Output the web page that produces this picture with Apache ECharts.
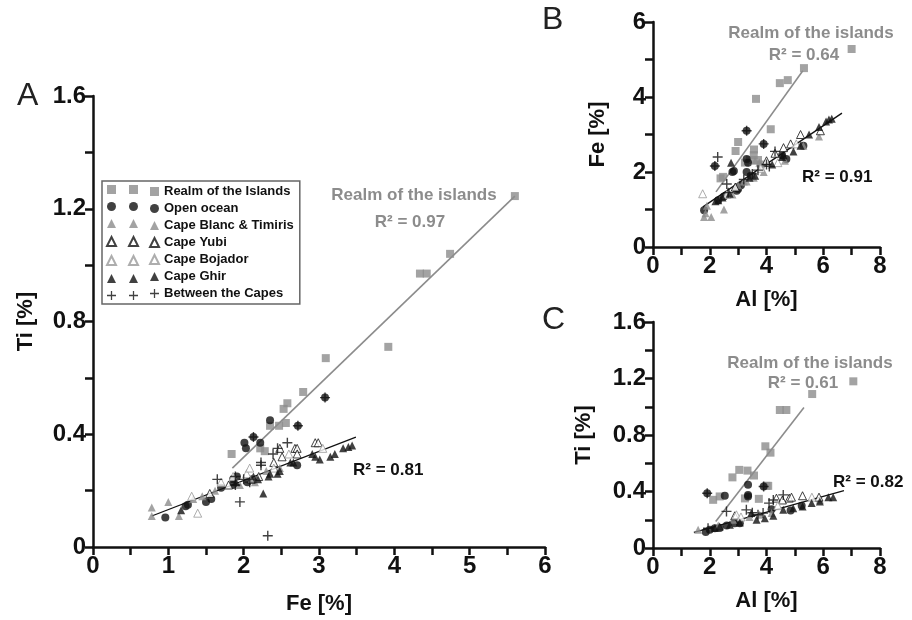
<!DOCTYPE html>
<html>
<head>
<meta charset="utf-8">
<script src="https://cdn.jsdelivr.net/npm/echarts@6/dist/echarts.min.js"></script>
<style>
  html, body { margin: 0; padding: 0; background: #fff; }
  #chart { width: 912px; height: 620px; }
</style>
</head>
<body>
<div id="chart"></div>
<script>
// group names (legend order)
var groups = ["Realm of the Islands", "Open ocean", "Cape Blanc & Timiris", "Cape Yubi", "Cape Bojador", "Cape Ghir", "Between the Capes"];

// Panel A: Fe [%] vs Ti [%]
var aRealm = [[5.6,1.245],[4.34,0.97],[4.43,0.97],[4.74,1.04],[3.92,0.71],[3.09,0.67],[2.79,0.55],[2.58,0.51],[2.53,0.49],[2.56,0.44],[2.47,0.43],[2.35,0.43],[2.22,0.35],[2.28,0.34],[1.84,0.33]];
var aOcean = [[2.35,0.45],[2.01,0.37],[2.03,0.35],[2.22,0.37],[2.71,0.29],[2.13,0.39],[2.72,0.43],[3.08,0.53],[0.96,0.105],[1.23,0.145],[1.26,0.15],[1.5,0.16],[1.57,0.17],[1.91,0.25],[1.86,0.24],[1.86,0.22],[1.7,0.21],[2.05,0.23]];
var aBlanc = [[0.78,0.14],[0.78,0.11],[1.0,0.16],[1.14,0.11],[1.33,0.17],[2.48,0.28],[1.62,0.2],[1.95,0.22],[2.15,0.23],[1.45,0.18],[2.3,0.27]];
var aYubi = [[2.48,0.35],[2.68,0.35],[2.71,0.35],[2.95,0.37],[2.99,0.37],[2.51,0.32],[2.71,0.33],[1.8,0.22],[2.1,0.24],[1.55,0.19],[2.2,0.25],[2.4,0.3]];
var aBojador = [[1.39,0.12],[1.31,0.18],[1.7,0.23],[2.04,0.26],[2.08,0.28],[1.86,0.25],[2.6,0.33],[3.05,0.35],[2.4,0.28]];
var aGhir = [[3.32,0.35],[3.39,0.355],[3.44,0.36],[3.21,0.33],[3.15,0.32],[3.01,0.31],[2.95,0.32],[2.91,0.33],[2.66,0.3],[2.62,0.3],[2.48,0.27],[2.45,0.26],[2.35,0.26],[2.33,0.25],[2.19,0.24],[2.26,0.19],[1.17,0.13],[2.13,0.25],[1.9,0.23]];
var aCapes = [[2.58,0.37],[2.39,0.33],[2.23,0.3],[2.23,0.29],[1.65,0.24],[1.89,0.25],[1.89,0.22],[2.08,0.23],[2.13,0.39],[2.72,0.43],[3.08,0.53],[1.95,0.16],[2.32,0.04],[2.0,0.24],[2.45,0.35]];
var aRealmFit = [[1.85,0.28],[5.6,1.245]];
var aAllFit = [[0.78,0.11],[3.49,0.39]];

// Panel B: Al [%] vs Fe [%]
var bRealm = [[7.0,5.28],[5.32,4.77],[4.75,4.45],[4.47,4.37],[3.63,3.95],[4.15,3.14],[3.0,2.8],[2.91,2.56],[3.56,2.6],[3.24,2.25],[3.42,2.32],[3.7,2.32],[2.47,1.87],[2.38,1.83],[3.8,2.2],[3.55,2.45]];
var bOcean = [[1.8,0.98],[2.8,2.0],[2.85,2.03],[3.3,2.0],[3.3,2.35],[3.35,2.25],[3.45,1.9],[3.0,1.55],[2.95,1.5],[4.55,2.45],[4.7,2.35],[5.3,2.7],[2.3,1.25],[2.5,1.35],[3.1,1.65],[3.3,3.1],[2.18,2.16],[3.9,2.75]];
var bBlanc = [[1.8,0.8],[2.05,0.8],[1.85,0.9],[2.5,1.0],[5.85,2.95],[5.3,2.7],[3.55,1.85],[3.3,1.75],[3.2,1.75],[3.0,1.65],[2.8,1.4],[4.65,2.3],[3.9,2.0],[1.9,1.1],[3.6,2.3],[3.75,2.25]];
var bYubi = [[5.2,3.0],[4.6,2.65],[4.85,2.75],[4.0,2.3],[5.9,3.1],[4.3,2.5],[2.9,1.6]];
var bBojador = [[1.75,1.42],[4.4,2.25],[3.8,2.1],[5.05,2.75],[2.6,1.4]];
var bGhir = [[6.3,3.42],[6.2,3.4],[6.1,3.35],[5.85,3.2],[5.5,3.0],[5.2,2.7],[4.95,2.55],[4.6,2.45],[4.55,2.4],[4.2,2.2],[3.6,1.9],[3.4,1.85],[2.7,1.42],[2.45,1.32],[2.3,1.25],[2.2,1.22],[2.75,2.25]];
var bCapes = [[2.28,2.4],[2.18,2.16],[2.6,1.68],[3.3,3.1],[3.9,2.75],[4.0,2.2],[3.5,1.95],[4.1,2.15],[4.3,2.55],[3.7,2.05],[2.65,1.45],[3.2,1.8]];
var bRealmFit = [[2.22,1.47],[5.28,4.7]];
var bAllFit = [[1.76,1.07],[6.66,3.57]];

// Panel C: Al [%] vs Ti [%]
var cRealm = [[7.06,1.18],[5.61,1.09],[4.47,0.977],[4.7,0.977],[3.96,0.72],[4.14,0.675],[3.04,0.553],[2.8,0.5],[3.33,0.548],[3.56,0.513],[2.12,0.341],[2.35,0.365],[3.24,0.351],[3.73,0.348],[4.06,0.44],[4.0,0.44]];
var cOcean = [[2.53,0.37],[3.35,0.447],[3.35,0.376],[3.35,0.365],[1.86,0.113],[1.91,0.388],[3.9,0.435],[3.06,0.176],[2.88,0.176],[2.18,0.139],[2.35,0.141],[2.0,0.129],[5.24,0.299],[4.85,0.266],[4.18,0.275],[2.6,0.16]];
var cBlanc = [[1.59,0.129],[3.76,0.235],[4.18,0.247],[5.88,0.341],[2.82,0.2],[3.4,0.22],[2.3,0.16]];
var cYubi = [[4.35,0.353],[4.8,0.353],[4.88,0.36],[5.27,0.37],[5.85,0.36],[4.56,0.34],[2.88,0.228]];
var cBojador = [[2.94,0.235],[5.6,0.36],[3.1,0.22],[4.4,0.3]];
var cGhir = [[6.35,0.36],[6.18,0.36],[5.88,0.33],[5.59,0.318],[5.27,0.294],[4.94,0.282],[4.59,0.27],[4.24,0.228],[3.94,0.21],[3.65,0.2],[3.06,0.18],[2.71,0.165],[2.35,0.153],[2.18,0.141],[3.47,0.247]];
var cCapes = [[1.91,0.388],[3.9,0.435],[2.59,0.259],[4.09,0.318],[4.59,0.376],[4.24,0.34],[3.7,0.235],[3.88,0.247],[3.29,0.27],[1.94,0.14],[3.5,0.25]];
var cRealmFit = [[2.21,0.188],[5.32,0.995]];
var cAllFit = [[1.44,0.111],[6.73,0.407]];

var FONT = "Liberation Sans";
var plusPath = "path://M4.3,0H5.7V4.3H10V5.7H5.7V10H4.3V5.7H0V4.3H4.3Z";

// how each group is drawn
var groupStyle = {
  "Realm of the Islands": { symbol: "rect", size: 8, itemStyle: { color: "#8c8c8c" } },
  "Open ocean": { symbol: "circle", size: 8, itemStyle: { color: "#111" } },
  "Cape Blanc & Timiris": { symbol: "triangle", size: 8, itemStyle: { color: "#8c8c8c" } },
  "Cape Yubi": { symbol: "triangle", size: 8, itemStyle: { color: "#fff", borderColor: "#111", borderWidth: 1 } },
  "Cape Bojador": { symbol: "triangle", size: 8, itemStyle: { color: "#fff", borderColor: "#999", borderWidth: 1 } },
  "Cape Ghir": { symbol: "triangle", size: 8, itemStyle: { color: "#111" } },
  "Between the Capes": { symbol: plusPath, size: 10, itemStyle: { color: "#111" } }
};

var panelData = [
  [aRealm, aOcean, aBlanc, aYubi, aBojador, aGhir, aCapes],
  [bRealm, bOcean, bBlanc, bYubi, bBojador, bGhir, bCapes],
  [cRealm, cOcean, cBlanc, cYubi, cBojador, cGhir, cCapes]
];
var panelFits = [[aRealmFit, aAllFit], [bRealmFit, bAllFit], [cRealmFit, cAllFit]];

var series = [];
panelFits.forEach(function (fits, p) {
  series.push({ type: "line", xAxisIndex: p, yAxisIndex: p, data: fits[0], symbol: "none", silent: true,
    lineStyle: { color: "#8c8c8c", width: 1.6 }, z: 1 });
  series.push({ type: "line", xAxisIndex: p, yAxisIndex: p, data: fits[1], symbol: "none", silent: true,
    lineStyle: { color: "#111", width: 1.3 }, z: 1 });
});
panelData.forEach(function (sets, p) {
  sets.forEach(function (d, i) {
    var st = groupStyle[groups[i]];
    series.push({ type: "scatter", name: groups[i], xAxisIndex: p, yAxisIndex: p, data: d,
      symbol: st.symbol, symbolSize: st.size, itemStyle: st.itemStyle, z: 2 + (i === 6 ? 2 : 0) });
  });
});

var labelStyle = { fontFamily: FONT, fontWeight: "bold", fontSize: 24, color: "#111" };
function axis(grid, min, max, interval, name, gap, dec) {
  return {
    type: "value", gridIndex: grid, min: min, max: max, interval: interval,
    name: name, nameLocation: "middle", nameGap: gap,
    nameTextStyle: { fontFamily: FONT, fontWeight: "bold", fontSize: 22, color: "#111" },
    axisLine: { show: true, lineStyle: { color: "#111", width: 2.5 } },
    axisTick: { show: true, length: 8, lineStyle: { color: "#111", width: 2.5 } },
    minorTick: { show: true, splitNumber: 2, length: 8, lineStyle: { color: "#111", width: 2.5 } },
    splitLine: { show: false },
    axisLabel: Object.assign({ margin: 7, formatter: function (v) { return v === 0 ? "0" : v.toFixed(dec); } }, labelStyle)
  };
}

var legendBase = { orient: "vertical", top: 185, itemWidth: 9, itemHeight: 9, itemGap: 8,
  selectedMode: false, data: groups, textStyle: { fontFamily: FONT, fontWeight: "bold", fontSize: 13, color: "#111" } };

var option = {
  animation: false,
  backgroundColor: "#fff",
  grid: [
    { left: 93, top: 96, width: 452, height: 451 },
    { left: 653, top: 22, width: 227, height: 225 },
    { left: 653, top: 322, width: 227, height: 226 }
  ],
  xAxis: [
    axis(0, 0, 6, 1, "Fe [%]", 46, 0),
    axis(1, 0, 8, 2, "Al [%]", 42, 0),
    axis(2, 0, 8, 2, "Al [%]", 42, 0)
  ],
  yAxis: [
    axis(0, 0, 1.6, 0.4, "Ti [%]", 56, 1),
    axis(1, 0, 6, 2, "Fe [%]", 44, 1 - 1),
    axis(2, 0, 1.6, 0.4, "Ti [%]", 58, 1)
  ],
  legend: [
    Object.assign({}, legendBase, { left: 106, padding: 0, formatter: function () { return ""; } }),
    Object.assign({}, legendBase, { left: 128, padding: 0, formatter: function () { return ""; } }),
    Object.assign({}, legendBase, { left: 102, top: 181, itemGap: 4, padding: [4, 6, 4, 47], borderColor: "#666", borderWidth: 1.5 })
  ],
  graphic: [
    { type: "text", left: 17, top: 80, style: { text: "A", fontFamily: FONT, fontSize: 32, fill: "#222" } },
    { type: "text", left: 542, top: 4, style: { text: "B", fontFamily: FONT, fontSize: 32, fill: "#222" } },
    { type: "text", left: 542, top: 304, style: { text: "C", fontFamily: FONT, fontSize: 32, fill: "#222" } },
    { type: "text", x: 414, y: 195, style: { text: "Realm of the islands", align: "center", verticalAlign: "middle", fontFamily: FONT, fontWeight: "bold", fontSize: 17, fill: "#8c8c8c" } },
    { type: "text", x: 410, y: 222, style: { text: "R² = 0.97", align: "center", verticalAlign: "middle", fontFamily: FONT, fontWeight: "bold", fontSize: 17, fill: "#8c8c8c" } },
    { type: "text", x: 353, y: 470, style: { text: "R² = 0.81", align: "left", verticalAlign: "middle", fontFamily: FONT, fontWeight: "bold", fontSize: 17, fill: "#111" } },
    { type: "text", x: 811, y: 33, style: { text: "Realm of the islands", align: "center", verticalAlign: "middle", fontFamily: FONT, fontWeight: "bold", fontSize: 17, fill: "#8c8c8c" } },
    { type: "text", x: 804, y: 55, style: { text: "R² = 0.64", align: "center", verticalAlign: "middle", fontFamily: FONT, fontWeight: "bold", fontSize: 17, fill: "#8c8c8c" } },
    { type: "text", x: 802, y: 177, style: { text: "R² = 0.91", align: "left", verticalAlign: "middle", fontFamily: FONT, fontWeight: "bold", fontSize: 17, fill: "#111" } },
    { type: "text", x: 810, y: 363, style: { text: "Realm of the islands", align: "center", verticalAlign: "middle", fontFamily: FONT, fontWeight: "bold", fontSize: 17, fill: "#8c8c8c" } },
    { type: "text", x: 803, y: 383, style: { text: "R² = 0.61", align: "center", verticalAlign: "middle", fontFamily: FONT, fontWeight: "bold", fontSize: 17, fill: "#8c8c8c" } },
    { type: "text", x: 833, y: 482, style: { text: "R² = 0.82", align: "left", verticalAlign: "middle", fontFamily: FONT, fontWeight: "bold", fontSize: 17, fill: "#111" } }
  ],
  series: series
};

var chart = echarts.init(document.getElementById("chart"), null, { renderer: "canvas" });
chart.setOption(option);
</script>
</body>
</html>
